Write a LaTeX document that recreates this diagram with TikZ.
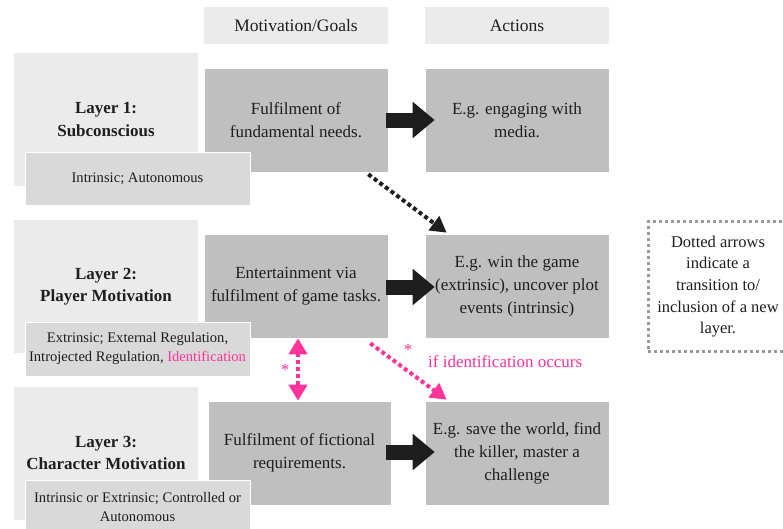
\documentclass[tikz,border=0pt]{standalone}
\usepackage{fontspec}
\setmainfont{Liberation Serif}
\usetikzlibrary{arrows.meta,calc}
\definecolor{lightbox}{HTML}{EBEBEB}
\definecolor{midbox}{HTML}{BFBFBF}
\definecolor{subbox}{HTML}{D9D9D9}
\definecolor{hotpink}{HTML}{FF3399}
\definecolor{legendgray}{HTML}{9A9A9A}
\definecolor{txt}{HTML}{1E1E1E}
\begin{document}
\begin{tikzpicture}[x=1pt,y=-1pt,
  base/.style={inner sep=0pt, align=center, text=txt},
  headbox/.style={base, fill=lightbox, minimum width=184pt, minimum height=37pt, font=\fontsize{17.5}{22}\selectfont},
  layerbox/.style={base, fill=lightbox, minimum width=184pt, minimum height=133pt, font=\bfseries\fontsize{17}{22.5}\selectfont},
  midbox/.style={base, fill=midbox, draw=white, line width=0.6pt, minimum width=184pt, minimum height=104pt, font=\fontsize{17}{23}\selectfont},
  subbox/.style={base, fill=subbox, draw=white, line width=0.6pt, minimum width=225pt, minimum height=54pt, font=\fontsize{14.6}{19}\selectfont},
  legendbox/.style={base, draw=legendgray, line width=3pt, dash pattern=on 3pt off 3pt, minimum width=140pt, minimum height=130pt, font=\fontsize{16.5}{21.7}\selectfont},
  blockarrow/.style={line width=15pt, txt, -{Triangle[length=22pt,width=35pt]}},
  dotarrow/.style={line width=4pt, dash pattern=on 4pt off 3pt, -{Triangle[length=16pt,width=17pt]}},
  pinkarrow/.style={dotarrow, hotpink, {Triangle[length=16pt,width=18pt]}-{Triangle[length=16pt,width=18pt]}},
  pinktext/.style={inner sep=0pt, text=hotpink, font=\fontsize{17}{20}\selectfont}
]
\clip (0,0) rectangle (783,528);
\fill[white] (0,0) rectangle (783,528);

% headers
\node[headbox] (h1) at (296,25.5) {Motivation/Goals};
\node[headbox] (h2) at (517,25.5) {Actions};

% layer boxes
\node[layerbox] (l1) at (106,119.5) {Layer 1:\\Subconscious};
\node[layerbox] (l2) at (106,286.5) {Layer 2:\\Player Motivation};
\node[layerbox] (l3) at (106,453) {Layer 3:\\Character Motivation};

% motivation boxes
\node[midbox] (m1) at (296,120) {Fulfilment of\\fundamental needs.};
\node[midbox] (m2) at (296,286) {Entertainment via\\fulfilment of game tasks.};
\node[midbox, minimum width=183pt] (m3) at (299.5,453) {Fulfilment of fictional\\requirements.};

% action boxes
\node[midbox] (a1) at (517,120) {E.g. engaging with\\media.};
\node[midbox] (a2) at (517,286) {E.g. win the game\\(extrinsic), uncover plot\\events (intrinsic)};
\node[midbox] (a3) at (517,453) {E.g. save the world, find\\the killer, master a\\challenge};

% sub boxes
\node[subbox, minimum height=53pt] (s1) at (137.5,178.5) {Intrinsic; Autonomous};
\node[subbox] (s2) at (137.5,349) {Extrinsic; External Regulation,\\Introjected Regulation, \textcolor{hotpink}{Identification}};
\node[subbox] (s3) at (137.5,507) {Intrinsic or Extrinsic; Controlled or\\Autonomous};

% legend
\node[legendbox] (lg) at (718,286.5) {Dotted arrows\\indicate a\\transition to/\\inclusion of a new\\layer.};

% block arrows
\draw[blockarrow] ($(m1.east)+(-2,0)$) -- ($(a1.west)+(10,0)$);
\draw[blockarrow] ($(m2.east)+(-2,1)$) -- ($(a2.west)+(10,1)$);
\draw[blockarrow] ($(m3.east)+(-5,-1)$) -- ($(a3.west)+(10,-1)$);

% dotted arrows
\draw[dotarrow, txt] ($(m1.south east)+(-20,2)$) -- ($(a2.north west)+(22,-1)$);
\draw[dotarrow, hotpink] ($(m2.south east)+(-18,5)$) -- ($(a3.north west)+(22,-1)$);
\draw[pinkarrow] ($(m2.south)+(2,0)$) -- ($(m3.north)+(-1.5,0)$);

% labels
\node[pinktext] (st1) at (285,370) {*};
\node[pinktext] (st2) at (408,350) {*};
\node[pinktext, anchor=west] (cond) at (428,362) {if identification occurs};
\end{tikzpicture}
\end{document}
